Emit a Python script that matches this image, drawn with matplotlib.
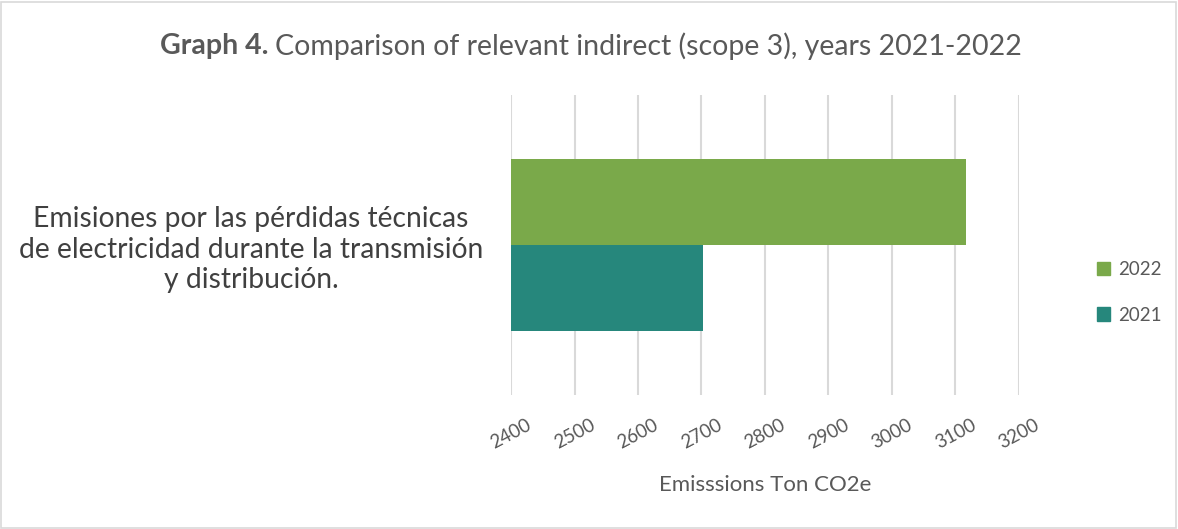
import matplotlib.pyplot as plt
from matplotlib.patches import Rectangle, Patch

plt.rcParams['font.family'] = ['Lato', 'DejaVu Sans']

category = "Emisiones por las pérdidas técnicas\nde electricidad durante la transmisión\ny distribución."
years = ["2022", "2021"]
values = [3116, 2702]
colors = ["#7AA94A", "#26877C"]
xticks = [2400, 2500, 2600, 2700, 2800, 2900, 3000, 3100, 3200]

grey = "#595959"

fig = plt.figure(figsize=(11.78, 5.29), dpi=100)
fig.patches.append(Rectangle((0.001, 0.002), 0.997, 0.995, transform=fig.transFigure,
                             fill=False, edgecolor="#D9D9D9", linewidth=1.2))
ax = fig.add_axes([0.4338, 0.2533, 0.4312, 0.5671])

h = 0.287
ax.barh(0 + h / 2, values[0] - 2400, left=2400, height=h, color=colors[0], label=years[0], zorder=2)
ax.barh(0 - h / 2, values[1] - 2400, left=2400, height=h, color=colors[1], label=years[1], zorder=2)

ax.set_xlim(2400, 3200)
ax.set_ylim(-0.5, 0.5)
ax.set_xticks(xticks)
ax.set_xticklabels([str(t) for t in xticks], rotation=28, color=grey, fontsize=13.5)
ax.tick_params(axis='x', length=0, pad=15)
ax.set_yticks([0])
ax.set_yticklabels([category], fontsize=20.3, color="#404040", multialignment='center',
                   linespacing=1.2)
ax.tick_params(axis='y', length=0, pad=20)
ax.grid(axis='x', color="#D9D9D9", linewidth=1.5, zorder=0)
for s in ax.spines.values():
    s.set_visible(False)

ax.set_xlabel("Emisssions Ton CO2e", fontsize=16, color=grey, labelpad=17)

# title: bold part followed by regular part, centred as a whole
t1 = fig.text(0, 0.913, "Graph 4. ", fontsize=20.5, fontweight='bold', color=grey, va='center')
t2 = fig.text(0, 0.913, "Comparison of relevant indirect (scope 3), years 2021-2022",
              fontsize=20.5, color=grey, va='center')
fig.canvas.draw()
w1 = t1.get_window_extent().width
w2 = t2.get_window_extent().width
x0 = 591 - (w1 + w2) / 2
t1.set_x(x0 / fig.bbox.width)
t2.set_x((x0 + w1) / fig.bbox.width)

handles = [Patch(color=colors[0]), Patch(color=colors[1])]
fig.legend(handles, years, loc='center left', bbox_to_anchor=(0.917, 0.447), frameon=False,
           fontsize=13.5, labelcolor=grey, handlelength=0.7, handleheight=0.7,
           labelspacing=1.5, handletextpad=0.4)

fig.savefig("out.png", dpi=100)
